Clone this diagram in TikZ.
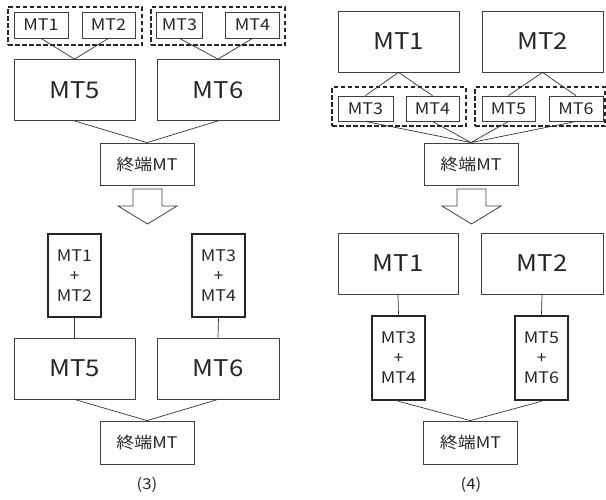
\documentclass[tikz,border=0pt]{standalone}
\usepackage{fontspec}
\setmainfont[FakeStretch=1.12]{Noto Sans CJK JP}
\usetikzlibrary{arrows.meta,positioning}

\begin{document}
\begin{tikzpicture}[x=1pt,y=-1pt,
 box/.style={draw=black!75,line width=0.8pt,inner sep=0pt,align=center,text=black!85},
 small/.style={box,minimum height=26pt,font=\fontsize{16}{16}\selectfont},
 big/.style={box,minimum width=121pt,minimum height=61pt,font=\fontsize{23}{23}\selectfont},
 term/.style={box,minimum width=94pt,minimum height=42pt,font=\fontsize{16}{16}\selectfont},
 merged/.style={box,draw=black!85,line width=2.6pt,minimum width=53pt,minimum height=83pt,
 font=\fontsize{16}{20}\selectfont},
 group/.style={draw=black!85,line width=2.2pt,dash pattern=on 4.5pt off 2.5pt,
 minimum height=38pt,inner sep=0pt},
 link/.style={draw=black!80,line width=0.7pt},
 caption/.style={font=\fontsize{15}{15}\selectfont,text=black!85},
 bigarrow/.pic={\draw[draw=black!75,line width=0.8pt,fill=white]
 (-14.5,0) -- (-14.5,17) -- (-29.5,17) -- (0,35) -- (29.5,17) -- (14.5,17)
 -- (14.5,0) -- cycle;}]
\useasboundingbox (0,0) rectangle (606,499);

% (3) before
\node[group,minimum width=134pt] (lgrpA) at (75,26) {};
\node[group,minimum width=134pt] (lgrpB) at (218,26) {};
\node[small,minimum width=54pt] (lmt1) at (41,25) {MT1};
\node[small,minimum width=53pt] (lmt2) at (108.5,25) {MT2};
\node[small,minimum width=46pt] (lmt3) at (179.5,25) {MT3};
\node[small,minimum width=54pt] (lmt4) at (252.5,25) {MT4};
\node[big] (lmt5) at (74.5,90) {MT5};
\node[big,minimum width=122pt] (lmt6) at (218,90) {MT6};
\node[term] (lterm) at (147,164) {終端MT};
\draw[link] (lmt1.south) -- (lmt5.north) -- (lmt2.south);
\draw[link] (lmt3.south) -- (lmt6.north) -- (lmt4.south);
\draw[link] (lmt5.south) -- (lterm.north) -- (lmt6.south);

\pic at (147.5,189) {bigarrow};

% (3) after
\node[merged] (lsumA) at (74.5,275.5) {MT1\\+\\MT2};
\node[merged] (lsumB) at (218.5,275.5) {MT3\\+\\MT4};
\node[big] (lmt5b) at (74.5,368.5) {MT5};
\node[big,minimum width=122pt] (lmt6b) at (218,368.5) {MT6};
\node[term,minimum height=43pt] (ltermb) at (147,442.5) {終端MT};
\draw[link] (lsumA.south) -- (lmt5b.north);
\draw[link] (lsumB.south) -- (lmt6b.north);
\draw[link] (lmt5b.south) -- (ltermb.north) -- (lmt6b.south);
\node[caption] (lcap) at (147,485) {(3)};

% (4) before
\node[big] (rmt1) at (398.5,41.5) {MT1};
\node[big] (rmt2) at (542.5,41.5) {MT2};
\node[group,minimum width=134pt,minimum height=39pt] (rgrpA) at (399,106.5) {};
\node[group,minimum width=130pt,minimum height=39pt] (rgrpB) at (540,106.5) {};
\node[small,minimum width=55pt,minimum height=25pt] (rmt3) at (365.5,108.5) {MT3};
\node[small,minimum width=53pt,minimum height=25pt] (rmt4) at (432.5,108.5) {MT4};
\node[small,minimum width=53pt,minimum height=25pt] (rmt5) at (508.5,108.5) {MT5};
\node[small,minimum width=54pt,minimum height=25pt] (rmt6) at (576,108.5) {MT6};
\node[term] (rterm) at (471,164) {終端MT};
\draw[link] (rmt3.north) -- (rmt1.south) -- (rmt4.north);
\draw[link] (rmt5.north) -- (rmt2.south) -- (rmt6.north);
\draw[link] (rmt3.south) -- (rterm.north) -- (rmt4.south);
\draw[link] (rmt5.south) -- (rterm.north) -- (rmt6.south);

\pic at (471.5,189) {bigarrow};

% (4) after
\node[big,minimum width=120pt] (rmt1b) at (398,263.5) {MT1};
\node[big,minimum width=122pt] (rmt2b) at (542,263.5) {MT2};
\node[merged,minimum height=84pt] (rsumA) at (398.5,358) {MT3\\+\\MT4};
\node[merged,minimum height=84pt] (rsumB) at (541.5,358) {MT5\\+\\MT6};
\node[term,minimum height=43pt] (rtermb) at (470.5,442.5) {終端MT};
\draw[link] (rmt1b.south) -- (rsumA.north);
\draw[link] (rmt2b.south) -- (rsumB.north);
\draw[link] (rsumA.south) -- (rtermb.north) -- (rsumB.south);
\node[caption] (rcap) at (471,485) {(4)};
\end{tikzpicture}
\end{document}
